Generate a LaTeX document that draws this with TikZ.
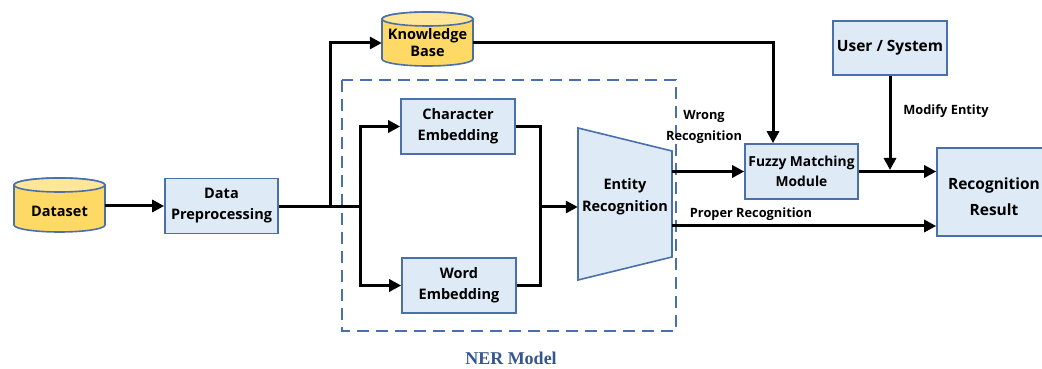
\documentclass[tikz,border=0pt]{standalone}
\usepackage{fontspec}
\setmainfont{Open Sans}
\newfontfamily\nerfont{Liberation Serif}
\usetikzlibrary{arrows.meta,calc}
\definecolor{boxfill}{HTML}{DEEAF6}
\definecolor{boxline}{HTML}{4A70AC}
\definecolor{cylfill}{HTML}{FFD966}
\definecolor{cyltop}{HTML}{FFE699}
\definecolor{nercol}{HTML}{34558E}
\newcommand{\mycyl}[4]{%
  \pgfmathsetmacro\rx{(#2-#1)/2}%
  \filldraw[draw=boxline, fill=cylfill, line width=1.6pt] (#1,#3) -- (#1,#4)
    arc[start angle=180, end angle=360, x radius=\rx, y radius=7] -- (#2,#3)
    arc[start angle=0, end angle=180, x radius=\rx, y radius=7] -- cycle;
  \filldraw[draw=boxline, fill=cyltop, line width=1.6pt] ({(#1+#2)/2},#3) ellipse[x radius=\rx, y radius=7];
}
\newcommand{\lowerby}[1]{\raisebox{-5pt}[\height][\depth]{#1}}
\begin{document}
\begin{tikzpicture}[x=1pt,y=1pt,
  box/.style={draw=boxline, fill=boxfill, line width=1.6pt, minimum width=113pt, minimum height=55pt,
    align=center, inner sep=0pt, font=\bfseries\fontsize{14.5}{21}\selectfont},
  txt/.style={align=center, inner sep=0pt, font=\bfseries\fontsize{14.5}{21}\selectfont},
  conn/.style={line width=3pt, -{Triangle[length=12pt,width=12pt]}},
  plain/.style={line width=3pt},
  lab/.style={align=center, inner sep=0pt, font=\bfseries\fontsize{12.8}{21}\selectfont},
  dashbox/.style={draw=boxline, line width=2pt, dash pattern=on 12pt off 7pt}
]
\useasboundingbox (0,0) rectangle (1042,369);

% dashed NER region
\draw[dashbox] (342,289) rectangle (676,38);
\node[font=\nerfont\bfseries\fontsize{18}{20}\selectfont, text=nercol, inner sep=1pt] (ner) at (511,11) {NER Model};

% cylinders
\mycyl{14}{105}{184}{144}
\node[txt, minimum width=91pt, minimum height=54pt] (ds) at (59.5,163) {\lowerby{Dataset}};
\mycyl{382}{473}{350}{310}
\node[txt, minimum width=91pt, minimum height=54pt, font=\bfseries\fontsize{14.5}{17}\selectfont] (kb) at (427.5,326) {Knowledge\\Base};

% boxes
\node[box] (dp) at (221.5,163) {Data\\Preprocessing};
\node[box, minimum width=114pt] (ce) at (458,242.5) {Character\\Embedding};
\node[box, minimum width=114pt] (we) at (459,83.5) {Word\\Embedding};
\node[box, font=\bfseries\fontsize{13.8}{20}\selectfont] (fm) at (801.5,197.5) {Fuzzy Matching\\Module};
\node[box, minimum width=114pt, minimum height=54pt, font=\bfseries\fontsize{15.5}{18}\selectfont] (us) at (890,321) {User / System};
\node[box, minimum width=114pt, minimum height=88pt, font=\bfseries\fontsize{15.5}{26}\selectfont] (rr) at (994,177) {\lowerby{Recognition}\\\lowerby{Result}};

% entity recognition trapezoid
\filldraw[draw=boxline, fill=boxfill, line width=1.6pt] (578,241) -- (672,218) -- (672,112) -- (578,89) -- cycle;
\node[txt, minimum width=94pt, minimum height=140pt, font=\bfseries\fontsize{14.5}{22}\selectfont] (er) at (625,172) {Entity\\Recognition};

% junctions
\coordinate (j1) at (330,162);
\coordinate (j2) at (360,162);
\coordinate (j3) at (540,162);
\coordinate (erw) at ([yshift=25.5pt]er.east);
\coordinate (erp) at ([yshift=-29pt]er.east);
\coordinate (kbin) at ([xshift=-28.5pt]fm.north);
\coordinate (mj) at (us.south |- fm.east);

% connectors
\draw[conn] (ds.east) -- (ds.east -| dp.west);
\draw[plain] (dp.east |- j2) -- (j2);
\draw[conn] (j1) |- (kb.west);
\draw[conn] (j2) |- (ce.west);
\draw[conn] (j2) |- (we.west);
\draw[plain] (ce.east) -| (j3);
\draw[plain] (we.east) -| (j3);
\draw[conn] (j3) -- (j3 -| er.west);
\draw[conn] (kb.east) -| (kbin);
\draw[conn] (erw) -- (erw -| fm.west);
\draw[conn] (fm.east) -- (fm.east -| rr.west);
\draw[conn, shorten >=1.5pt] (us.south) -- (mj);
\draw[conn] (erp) -- (erp -| rr.west);

% labels
\node[lab] (lwr) at (704,242) {Wrong\\Recognition};
\node[lab] (lpr) at (751,155) {Proper Recognition};
\node[lab] (lme) at (946,258) {Modify Entity};
\end{tikzpicture}
\end{document}
